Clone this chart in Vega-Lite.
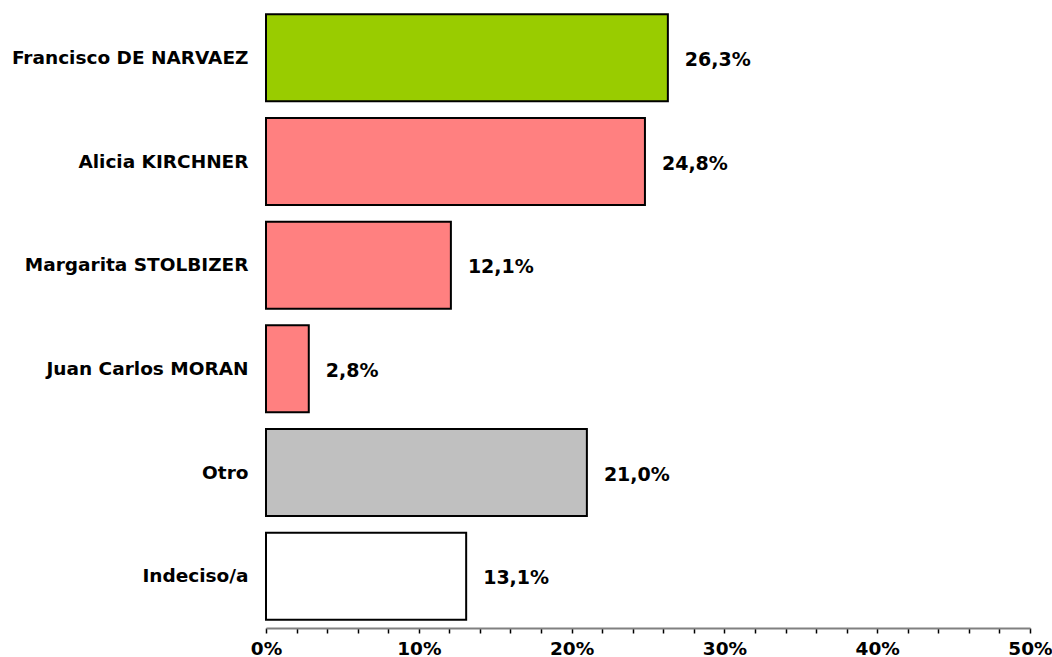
{
  "$schema": "https://vega.github.io/schema/vega-lite/v6.json",
  "width": 764,
  "height": 622,
  "autosize": {"type": "none"},
  "padding": {"left": 266, "top": 6, "right": 22, "bottom": 29},
  "background": "white",
  "config": {"view": {"stroke": null}, "font": "DejaVu Sans"},
  "data": {
    "values": [
      {"candidato": "Francisco DE NARVAEZ", "valor": 26.3, "etiqueta": "26,3%", "grupo": "a"},
      {"candidato": "Alicia KIRCHNER", "valor": 24.8, "etiqueta": "24,8%", "grupo": "b"},
      {"candidato": "Margarita STOLBIZER", "valor": 12.1, "etiqueta": "12,1%", "grupo": "b"},
      {"candidato": "Juan Carlos MORAN", "valor": 2.8, "etiqueta": "2,8%", "grupo": "b"},
      {"candidato": "Otro", "valor": 21.0, "etiqueta": "21,0%", "grupo": "c"},
      {"candidato": "Indeciso/a", "valor": 13.1, "etiqueta": "13,1%", "grupo": "d"}
    ]
  },
  "encoding": {
    "y": {
      "field": "candidato",
      "type": "nominal",
      "sort": null,
      "scale": {"paddingInner": 0.16, "paddingOuter": 0.08},
      "axis": {
        "title": null,
        "domain": false,
        "ticks": false,
        "labelPadding": 18,
        "labelFontSize": 18.5,
        "labelFontWeight": "bold",
        "labelColor": "black",
        "labelFont": "DejaVu Sans",
        "labelLimit": 0
      }
    },
    "x": {
      "field": "valor",
      "type": "quantitative",
      "scale": {"domain": [0, 50], "nice": false},
      "axis": {
        "title": null,
        "grid": false,
        "values": [0, 2, 4, 6, 8, 10, 12, 14, 16, 18, 20, 22, 24, 26, 28, 30, 32, 34, 36, 38, 40, 42, 44, 46, 48, 50],
        "labelExpr": "datum.value % 10 === 0 ? datum.value + '%' : ''",
        "domainColor": "#808080",
        "domainWidth": 2,
        "tickColor": "black",
        "tickSize": 5,
        "tickWidth": 1.5,
        "labelFontSize": 18.5,
        "labelFontWeight": "bold",
        "labelColor": "black",
        "labelPadding": 6,
        "labelFont": "DejaVu Sans",
        "labelOverlap": false,
        "labelFlush": false
      }
    }
  },
  "layer": [
    {
      "mark": {"type": "bar", "stroke": "black", "strokeWidth": 2},
      "encoding": {
        "color": {
          "field": "grupo",
          "type": "nominal",
          "scale": {"domain": ["a", "b", "c", "d"], "range": ["#99CC00", "#FF8080", "#C0C0C0", "#FFFFFF"]},
          "legend": null
        }
      }
    },
    {
      "mark": {"type": "text", "align": "left", "dx": 17, "dy": 2, "fontSize": 19, "fontWeight": "bold", "font": "DejaVu Sans", "color": "black"},
      "encoding": {"text": {"field": "etiqueta"}}
    }
  ]
}
